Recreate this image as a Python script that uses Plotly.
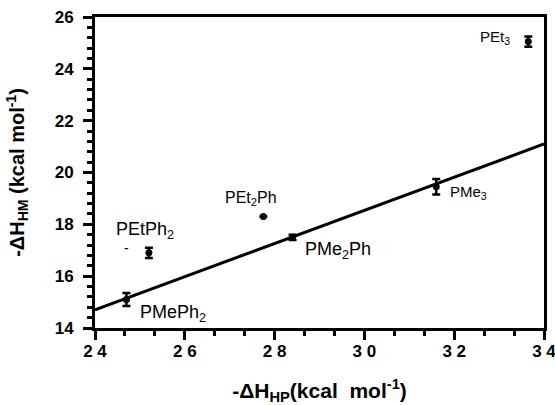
import plotly.graph_objects as go

ligands = ["PMePh<sub>2</sub>", "PEtPh<sub>2</sub>", "PEt<sub>2</sub>Ph", "PMe<sub>2</sub>Ph", "PMe<sub>3</sub>", "PEt<sub>3</sub>"]
dh_hp = [24.7, 25.2, 27.75, 28.4, 31.6, 33.65]
dh_hm = [15.1, 16.9, 18.3, 17.5, 19.45, 25.05]
err = [0.25, 0.2, 0.0, 0.1, 0.3, 0.2]
fit_x = [24, 34]
fit_y = [14.7, 21.1]

x_range = [24, 34]
y_range = [14, 26]
x_tickvals = [24, 26, 28, 30, 32, 34]
x_ticktext = ["<b>2 4</b>", "<b>2 6</b>", "<b>2 8</b>", "<b>3 0</b>", "<b>3 2</b>", "<b>3 4</b>"]
y_tickvals = [14, 16, 18, 20, 22, 24, 26]
y_ticktext = ["<b>14</b>", "<b>16</b>", "<b>18</b>", "<b>20</b>", "<b>22</b>", "<b>24</b>", "<b>26</b>"]

label_spec = [
    (24.96, 14.57, "left", 18),
    (25.11, 17.78, "center", 18),
    (27.47, 19.0, "center", 16),
    (28.63, 17.0, "left", 18),
    (31.86, 19.24, "left", 15),
    (33.29, 25.19, "right", 15),
]

FONT = "Liberation Sans"

fig = go.Figure()
fig.add_trace(go.Scatter(x=fit_x, y=fit_y, mode="lines",
                         line=dict(color="black", width=3), showlegend=False))
fig.add_trace(go.Scatter(
    x=dh_hp, y=dh_hm, mode="markers",
    marker=dict(color="black", size=7),
    error_y=dict(type="data", array=err, color="black", thickness=2.5, width=4),
    showlegend=False))

for name, (lx, ly, al, fs) in zip(ligands, label_spec):
    fig.add_annotation(x=lx, y=ly, text=name, showarrow=False,
                       xanchor=al, yanchor="middle",
                       font=dict(family=FONT, size=fs, color="black"))

fig.add_annotation(x=24.71, y=17.08, text="-", showarrow=False,
                   font=dict(family=FONT, size=14, color="black"))

axis_common = dict(showline=True, linecolor="black", linewidth=3, mirror=True,
                   ticks="outside", tickcolor="black", tickwidth=2.5, ticklen=9,
                   showgrid=False, zeroline=False, automargin=False,
                   ticklabeloverflow="allow",
                   tickfont=dict(family=FONT, size=17, color="black"))

fig.update_xaxes(range=x_range, tickmode="array", tickvals=x_tickvals, ticktext=x_ticktext,
                 ticklabelstandoff=-3,
                 minor=dict(dtick=2 / 3, tick0=24, ticks="outside", ticklen=5,
                            tickwidth=2.5, tickcolor="black"),
                 title=dict(text="<b>-ΔH<sub>HP</sub>(kcal\u00a0\u00a0mol<sup>-1</sup>)</b>", standoff=35,
                            font=dict(family=FONT, size=21, color="black")),
                 **axis_common)
fig.update_yaxes(range=y_range, tickmode="array", tickvals=y_tickvals, ticktext=y_ticktext,
                 ticklabelstandoff=6,
                 minor=dict(dtick=0.4, tick0=14, ticks="outside", ticklen=5,
                            tickwidth=2.5, tickcolor="black"),
                 title=dict(text="<b>-ΔH<sub>HM</sub> (kcal mol<sup>-1</sup>)</b>", standoff=25,
                            font=dict(family=FONT, size=20, color="black")),
                 **axis_common)

fig.update_layout(width=555, height=405, margin=dict(l=95, r=11, t=17, b=77),
                  plot_bgcolor="white", paper_bgcolor="white")
fig.write_html("out.html", config={"displayModeBar": False},
               post_script="document.body.style.margin='0';")
